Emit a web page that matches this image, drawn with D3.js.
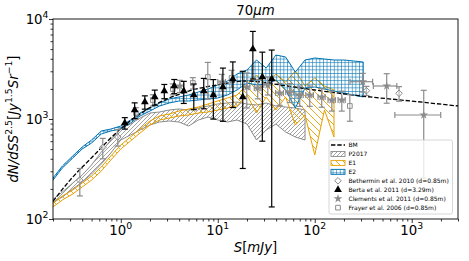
<!DOCTYPE html>
<html>
<head>
<meta charset="utf-8">
<script src="https://cdn.jsdelivr.net/npm/d3@7"></script>
<style>
body { margin: 0; background: #fff; }
svg { font-family: "DejaVu Sans", sans-serif; }
</style>
</head>
<body>
<svg id="chart" width="469" height="261"></svg>
<script>
// model bands, flux bins in mJy
var bandFlux = [0.2,0.25,0.32,0.4,0.5,0.63,0.79,1.0,1.26,1.58,2.0,2.51,3.16,3.98,5.01,6.31,7.94,10,12.6,15.8,20,25.1,31.6,39.8,50.1,63.1,79.4,100,126,158,200,251,316]
var p2017Lo = [145,166,200,234,282,355,457,617,692,776,871,933,955,933,851,977,1047,977,933,977,891,617,776,891,741,661,617,null,null,null,null,null,null]
var p2017Hi = [158,186,229,275,347,468,617,813,891,1023,1148,1175,1230,1259,1230,1288,1349,1413,1445,1479,1413,1380,1445,1349,1318,1288,1230,null,null,null,null,null,null]
var e1Lo = [132,155,178,209,245,302,389,501,603,724,871,977,1023,1072,1096,1148,1175,1230,1288,1349,1738,1148,1660,1230,1660,871,1096,437,1230,661,null,null,null]
var e1Hi = [145,170,195,229,269,331,427,550,661,794,955,1072,1122,1202,1259,1318,1413,1514,1622,1738,2188,2754,2188,2818,2344,3020,2138,2570,2138,1950,null,null,null]
var e2Lo = [245,324,407,501,575,708,759,794,912,1072,1202,1349,1445,1514,1514,1549,1585,1622,1738,1950,2291,2188,2239,2455,1950,1288,2042,2089,1995,1905,1820,1738,1660]
var e2Hi = [257,339,427,525,617,759,794,851,977,1148,1288,1445,1585,1660,1738,1862,1995,2188,2399,2818,3090,3890,3236,4365,4169,2951,3890,4074,3981,3890,3890,3802,3715]

// BM model
var bmFlux = [0.2,0.3,0.5,1,2,5,10,20,50,100,300,1000,3000]
var bmCounts = [150,245,410,800,1300,1900,2200,2400,2150,1950,1700,1510,1350]

// Berta et al. 2011
var bertaFlux = [1.10,1.39,1.77,2.24,2.81,3.56,4.46,5.66,7.17,9.0,11.3,14.3,18.1,23.0,28.8,36.0]
var bertaCounts = [912,1230,1479,1660,1905,2138,1905,1738,1905,1738,2089,2512,1660,5012,2630,2512]
var bertaErr = [120,220,225,285,310,345,475,500,640,740,1140,1210,1340,2500,2030,2380]

// Bethermin et al. 2010
var bethFlux = [0.378,0.652,0.931,341,740]
var bethCounts = [245,520,661,1919,1807]
var bethErr = [75,120,125,200,300]

// Clements et al. 2011
var clemFlux = [4.06,11.0,19.9,25.8,32.8,43.5,55.2,70.0,88.8,118,150,190,313,552,1330]
var clemCounts = [2138,2344,2089,2042,2188,1820,1862,1738,1738,1660,1549,1549,2360,2138,1096]
var clemErr = [300,450,800,450,450,450,400,400,400,350,350,350,500,700,840]
var clemFluxErr = [0.4,1,1.5,2,3,4,5,6,8,10,13,16,82,150,660]

// Frayer et al. 2006
var frayFlux = [1.43,2.14,3.44,5.53,7.89,13.9,230]
var frayCounts = [1148,1549,1995,2291,2630,2570,1350]
var frayErr = [150,200,250,300,1050,500,400]

var xTickExps = [0,1,2,3]
var yTickExps = [2,3,4]

var grey = "#8c8c8c", orange = "#e69f00", blue = "#0173b2"

var margin = {top: 19, right: 11, bottom: 42, left: 53},
    width  = 469-margin.left-margin.right,
    height = 261-margin.top-margin.bottom

var svg = d3.select("#chart")
var defs = svg.append("defs")

var x = d3.scaleLog().domain([0.2, 3000]).range([0, width])
var y = d3.scaleLog().domain([100, 10000]).range([height, 0])

function hatch(id, size, d, color, w) {
  defs.append("pattern").attr("id", id)
    .attr("patternUnits", "userSpaceOnUse")
    .attr("width", size).attr("height", size)
    .append("path").attr("d", d)
    .attr("stroke", color).attr("stroke-width", w).attr("fill", "none")
}
hatch("hP", 4, "M-1,1 l2,-2 M0,4 l4,-4 M3,5 l2,-2", grey, 0.8)
hatch("hE1", 7, "M-1,-1 l9,9 M-1,6 l2,2 M6,-1 l2,2", orange, 0.9)
hatch("hE2", 3.6, "M0,0.3 h3.6 M0.3,0 v3.6", blue, 0.7)

defs.append("clipPath").attr("id", "clip")
  .append("rect").attr("width", width).attr("height", height)

var plot = svg.append("g")
  .attr("transform", "translate("+margin.left+","+margin.top+")")

var inner = plot.append("g").attr("clip-path", "url(#clip)")

function band(lo, hi, fillId, color) {
  var rows = bandFlux.map(function(s, i) {
    return {s: s, lo: lo[i], hi: hi[i]}
  }).filter(function(d) { return d.lo != null })
  inner.append("path").datum(rows)
    .attr("d", d3.area()
      .x(function(d) { return x(d.s) })
      .y0(function(d) { return y(d.lo) })
      .y1(function(d) { return y(d.hi) }))
    .attr("fill", "url(#"+fillId+")")
    .attr("stroke", color)
    .attr("stroke-width", 1)
}

band(p2017Lo, p2017Hi, "hP", grey)
band(e1Lo, e1Hi, "hE1", orange)
band(e2Lo, e2Hi, "hE2", blue)

inner.append("path").datum(bmFlux)
  .attr("d", d3.line().curve(d3.curveMonotoneX)
    .x(function(d) { return x(d) })
    .y(function(d, i) { return y(bmCounts[i]) }))
  .attr("fill", "none")
  .attr("stroke", "#000")
  .attr("stroke-width", 1.3)
  .attr("stroke-dasharray", "4.4,1.9")

function diamond() {
  return "M0,-3.3L3.3,0L0,3.3L-3.3,0Z"
}

function marker(sel, kind, color) {
  if (kind == "tri") {
    sel.append("path").attr("d", d3.symbol(d3.symbolTriangle, 26)())
      .attr("fill", color)
  } else if (kind == "star") {
    sel.append("path").attr("d", d3.symbol(d3.symbolStar, 24)())
      .attr("fill", color)
  } else if (kind == "square") {
    sel.append("path").attr("d", d3.symbol(d3.symbolSquare, 22)())
      .attr("fill", "#fff").attr("fill-opacity", 0.4)
      .attr("stroke", color).attr("stroke-width", 1)
  } else {
    sel.append("path").attr("d", diamond())
      .attr("fill", "#fff").attr("fill-opacity", 0.4)
      .attr("stroke", color).attr("stroke-width", 1)
  }
}

function points(fx, fy, err, xerr, kind, color) {
  var gp = inner.append("g")
    .attr("stroke", color).attr("stroke-width", 1.2)
  fx.forEach(function(s, i) {
    var cx = x(s), cy = y(fy[i]),
        y0 = y(fy[i]-err[i]), y1 = y(fy[i]+err[i])
    gp.append("line").attr("x1", cx).attr("x2", cx).attr("y1", y0).attr("y2", y1)
    gp.append("line").attr("x1", cx-3).attr("x2", cx+3).attr("y1", y0).attr("y2", y0)
    gp.append("line").attr("x1", cx-3).attr("x2", cx+3).attr("y1", y1).attr("y2", y1)
    if (xerr) {
      var x0 = x(s-xerr[i]), x1 = x(s+xerr[i])
      gp.append("line").attr("x1", x0).attr("x2", x1).attr("y1", cy).attr("y2", cy)
      gp.append("line").attr("x1", x0).attr("x2", x0).attr("y1", cy-3).attr("y2", cy+3)
      gp.append("line").attr("x1", x1).attr("x2", x1).attr("y1", cy-3).attr("y2", cy+3)
    }
    var m = gp.append("g").attr("stroke", "none")
      .attr("transform", "translate("+cx+","+cy+")")
    marker(m, kind, color)
  })
}

points(bethFlux, bethCounts, bethErr, null, "diamond", grey)
points(clemFlux, clemCounts, clemErr, clemFluxErr, "star", grey)
points(frayFlux, frayCounts, frayErr, null, "square", grey)
points(bertaFlux, bertaCounts, bertaErr, null, "tri", "#000")

// axes
function isPow10(d) {
  var l = Math.log10(d)
  return Math.abs(l-Math.round(l)) < 1e-9
}

var xMinor = x.ticks().filter(function(d) { return !isPow10(d) })
var yMinor = y.ticks().filter(function(d) { return !isPow10(d) })
var xMajor = xTickExps.map(function(e) { return Math.pow(10, e) })
var yMajor = yTickExps.map(function(e) { return Math.pow(10, e) })

var xa = plot.append("g").attr("transform", "translate(0,"+height+")")
xa.call(d3.axisBottom(x).tickValues(xMajor).tickSize(4).tickSizeOuter(0).tickFormat(""))
xa.append("g").call(d3.axisBottom(x).tickValues(xMinor).tickSize(2.5).tickSizeOuter(0).tickFormat(""))

var ya = plot.append("g")
ya.call(d3.axisLeft(y).tickValues(yMajor).tickSize(4).tickSizeOuter(0).tickFormat(""))
ya.append("g").call(d3.axisLeft(y).tickValues(yMinor).tickSize(2.5).tickSizeOuter(0).tickFormat(""))

plot.selectAll(".domain").remove()
plot.selectAll(".tick line").attr("stroke", "#000").attr("stroke-width", 0.8)

plot.append("rect").attr("width", width).attr("height", height)
  .attr("fill", "none").attr("stroke", "#000").attr("stroke-width", 0.9)

function mathLabel(t, parts, size) {
  var shift = 0
  parts.forEach(function(p) {
    var ts = t.append("tspan").text(p[0])
    if (p[1]) ts.attr("font-style", "italic")
    var want = p[2] ? -size*0.42 : 0
    if (want != shift) { ts.attr("dy", want-shift); shift = want }
    if (p[2]) ts.attr("font-size", size*0.7)
  })
}

var fs = 13.3

xTickExps.forEach(function(e) {
  var t = plot.append("text")
    .attr("x", x(Math.pow(10, e))).attr("y", height+16)
    .attr("text-anchor", "middle").attr("font-size", fs)
  mathLabel(t, [["10",0],[String(e),0,1]], fs)
})

yTickExps.forEach(function(e) {
  var t = plot.append("text")
    .attr("x", -4.5).attr("y", y(Math.pow(10, e))+4.5)
    .attr("text-anchor", "end").attr("font-size", fs)
  mathLabel(t, [["10",0],[String(e),0,1]], fs)
})

var title = svg.append("text")
  .attr("x", margin.left+width/2).attr("y", 15)
  .attr("text-anchor", "middle").attr("font-size", fs)
mathLabel(title, [["70",0],["\u03bcm",1]], fs)

var xl = svg.append("text")
  .attr("x", margin.left+width/2).attr("y", 252)
  .attr("text-anchor", "middle").attr("font-size", fs)
mathLabel(xl, [["S",1],["[",0],["mJy",1],["]",0]], fs)

var yl = svg.append("text")
  .attr("transform", "translate(18,"+(margin.top+height/2)+") rotate(-90)")
  .attr("text-anchor", "middle").attr("font-size", fs)
mathLabel(yl, [["dN/dSS",1],["2.5",0,1],["[",0],["Jy",1],["1.5",0,1],["Sr",1],["\u22121",0,1],["]",0]], fs)

// legend
var legendNames = ["BM","P2017","E1","E2","Bethermin et al. 2010 (d=0.85m)","Berta et al. 2011 (d=3.29m)","Clements et al. 2011 (d=0.85m)","Frayer et al. 2006 (d=0.85m)"]

var lg = svg.append("g").attr("transform", "translate(329,140)")
lg.append("rect").attr("width", 123.5).attr("height", 74).attr("rx", 2)
  .attr("fill", "#fff").attr("fill-opacity", 0.8)
  .attr("stroke", "#ccc").attr("stroke-width", 0.8)

legendNames.forEach(function(name, i) {
  var cy = 5+i*8.95
  var row = lg.append("g")
  if (i == 0) {
    row.append("line").attr("x1", 2).attr("x2", 16).attr("y1", cy).attr("y2", cy)
      .attr("stroke", "#000").attr("stroke-width", 1.3).attr("stroke-dasharray", "4.4,1.9")
  } else if (i < 4) {
    var ids = ["hP","hE1","hE2"], cols = [grey, orange, blue]
    row.append("rect").attr("x", 2).attr("y", cy-2.5).attr("width", 14).attr("height", 5)
      .attr("fill", "url(#"+ids[i-1]+")").attr("stroke", cols[i-1]).attr("stroke-width", 0.9)
  } else {
    var kinds = ["diamond","tri","star","square"]
    var m = row.append("g").attr("transform", "translate(9,"+cy+")")
    marker(m, kinds[i-4], i == 5 ? "#000" : grey)
  }
  row.append("text").attr("x", 19.5).attr("y", cy+2.1)
    .attr("font-size", 6).text(name)
})
</script>
</body>
</html>
